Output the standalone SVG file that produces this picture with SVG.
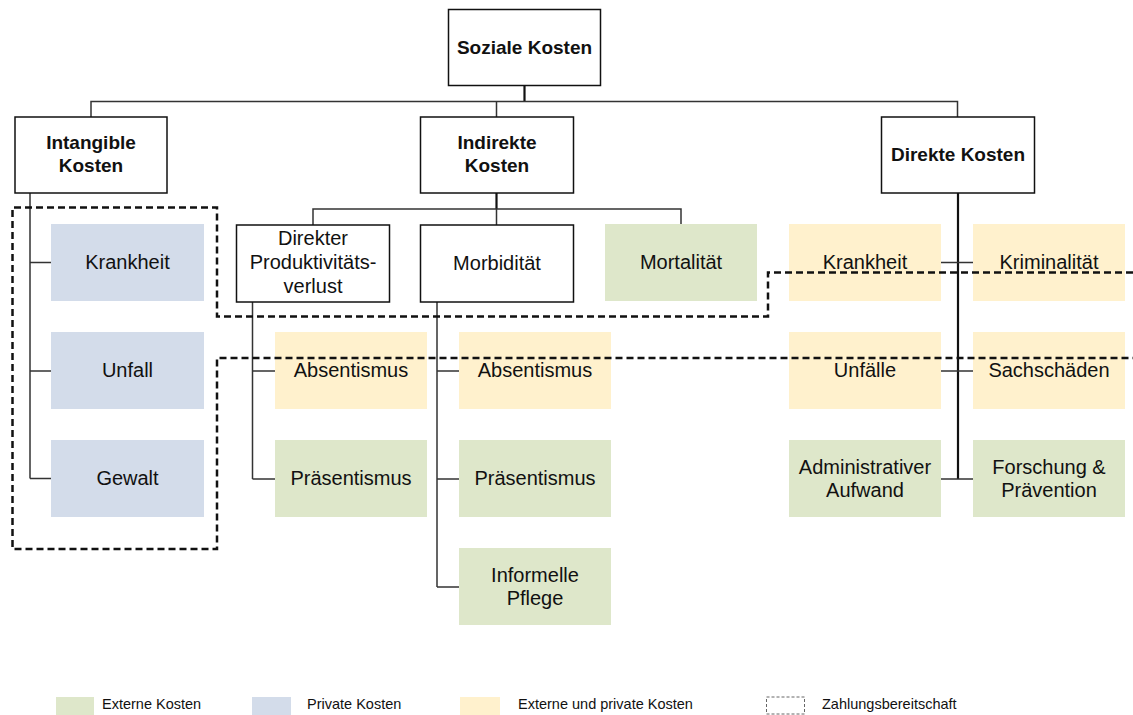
<svg xmlns="http://www.w3.org/2000/svg" width="1133" height="715" viewBox="0 0 1133 715">
<style>
  text { font-family: "Liberation Sans", Arial, sans-serif; font-size: 20px; fill: #111; text-anchor: middle; }
  .b { font-weight: bold; font-size: 19px; }
  .hdr { fill: #fff; stroke: #111; stroke-width: 1.5; }
  .green { fill: #DEE7CA; }
  .blue { fill: #D3DCEA; }
  .yellow { fill: #FFF1CD; }
  .con { fill: none; stroke: #333; stroke-width: 1.5; }
  .trunk { fill: none; stroke: #111; stroke-width: 2.2; }
  .wtp { fill: none; stroke: #111; stroke-width: 2.5; stroke-dasharray: 7 4; }
  .lg { font-size: 14.5px; text-anchor: start; }
</style>
<rect width="1133" height="715" fill="#fff"/>

<g id="connectors">
  <path class="trunk" d="M524.5 86 V101.5"/>
  <path class="con" d="M91 117 V101.5 H957.5 V117 M496.5 101.5 V117"/>
  <path class="trunk" d="M496.5 193 V209"/>
  <path class="con" d="M313 225 V209 H681 V224 M496.5 209 V225"/>
  <path class="con" d="M30 193 V478.5 M30 262.5 H51 M30 371 H51 M30 478.5 H51"/>
  <path class="con" d="M252.5 302 V479 M252.5 371 H275 M252.5 479 H275"/>
  <path class="con" d="M437 302 V587 M437 371 H459 M437 479 H459 M437 587 H459"/>
  <path class="trunk" d="M958 193 V479"/>
  <path class="con" d="M941 262.5 H973 M941 371 H973 M941 479 H973"/>
</g>

<g id="n-soziale"><rect class="hdr" x="448.5" y="9.5" width="152" height="76"/><text class="b" x="524.5" y="54">Soziale Kosten</text></g>
<g id="n-intangible"><rect class="hdr" x="15" y="117" width="152" height="76"/><text class="b" x="91" y="149">Intangible</text><text class="b" x="91" y="172">Kosten</text></g>
<g id="n-indirekte"><rect class="hdr" x="420.5" y="117" width="153" height="76"/><text class="b" x="497" y="149">Indirekte</text><text class="b" x="497" y="172">Kosten</text></g>
<g id="n-direkte"><rect class="hdr" x="881.5" y="117" width="153" height="76"/><text class="b" x="958" y="161">Direkte Kosten</text></g>

<g id="n-krankheit1"><rect class="blue" x="51" y="224" width="153" height="77"/><text x="127.5" y="269">Krankheit</text></g>
<g id="n-unfall"><rect class="blue" x="51" y="332" width="153" height="77"/><text x="127.5" y="377">Unfall</text></g>
<g id="n-gewalt"><rect class="blue" x="51" y="440" width="153" height="77"/><text x="127.5" y="485">Gewalt</text></g>

<g id="n-direkter"><rect class="hdr" x="236.5" y="225" width="153" height="77"/><text x="313" y="244.5">Direkter</text><text x="313" y="268.5">Produktivitäts-</text><text x="313" y="292.5">verlust</text></g>
<g id="n-morbiditaet"><rect class="hdr" x="420.5" y="225" width="153" height="77"/><text x="497" y="270">Morbidität</text></g>
<g id="n-mortalitaet"><rect class="green" x="605" y="224" width="152" height="77"/><text x="681" y="269">Mortalität</text></g>

<g id="n-absent1"><rect class="yellow" x="275" y="332" width="152" height="77"/><text x="351" y="377">Absentismus</text></g>
<g id="n-praes1"><rect class="green" x="275" y="440" width="152" height="77"/><text x="351" y="485">Präsentismus</text></g>
<g id="n-absent2"><rect class="yellow" x="459" y="332" width="152" height="77"/><text x="535" y="377">Absentismus</text></g>
<g id="n-praes2"><rect class="green" x="459" y="440" width="152" height="77"/><text x="535" y="485">Präsentismus</text></g>
<g id="n-pflege"><rect class="green" x="459" y="548" width="152" height="77"/><text x="535" y="581.5">Informelle</text><text x="535" y="604.5">Pflege</text></g>

<g id="n-krankheit2"><rect class="yellow" x="789" y="224" width="152" height="77"/><text x="865" y="269">Krankheit</text></g>
<g id="n-kriminalitaet"><rect class="yellow" x="973" y="224" width="152" height="77"/><text x="1049" y="269">Kriminalität</text></g>
<g id="n-unfaelle"><rect class="yellow" x="789" y="332" width="152" height="77"/><text x="865" y="377">Unfälle</text></g>
<g id="n-sachschaeden"><rect class="yellow" x="973" y="332" width="152" height="77"/><text x="1049" y="377">Sachschäden</text></g>
<g id="n-admin"><rect class="green" x="789" y="440" width="152" height="77"/><text x="865" y="473.5">Administrativer</text><text x="865" y="496.5">Aufwand</text></g>
<g id="n-forschung"><rect class="green" x="973" y="440" width="152" height="77"/><text x="1049" y="473.5">Forschung &amp;</text><text x="1049" y="496.5">Prävention</text></g>

<g id="zahlungsbereitschaft">
  <path class="wtp" d="M1133 272.5 H768 V316.5 H217 V207.5 H12.5 V549 H217 V358 H1133"/>
</g>

<g id="legend">
  <rect class="green" x="56" y="697" width="38" height="18"/>
  <text class="lg" x="102" y="709">Externe Kosten</text>
  <rect class="blue" x="252" y="697" width="39" height="18"/>
  <text class="lg" x="307" y="709">Private Kosten</text>
  <rect class="yellow" x="460" y="697" width="40" height="18"/>
  <text class="lg" x="518" y="709">Externe und private Kosten</text>
  <rect x="766.5" y="697" width="38" height="17" fill="none" stroke="#666" stroke-width="1" stroke-dasharray="3 2"/>
  <text class="lg" x="822" y="709">Zahlungsbereitschaft</text>
</g>
</svg>
